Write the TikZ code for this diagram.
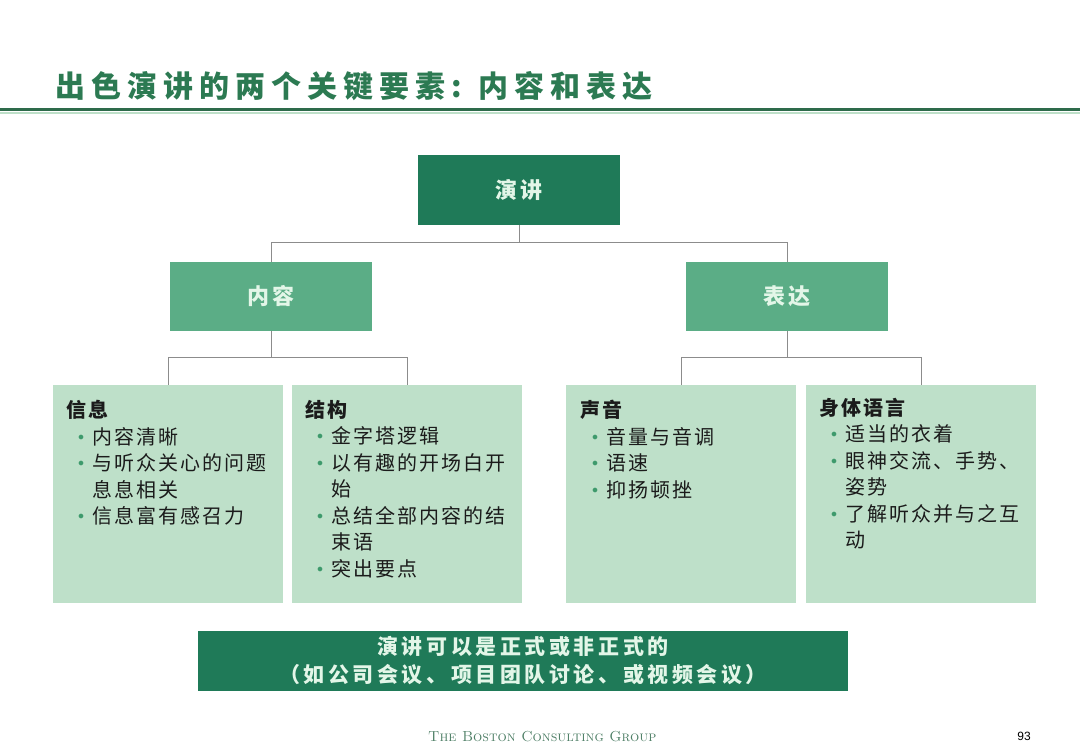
\documentclass[tikz,border=0pt]{standalone}
\usepackage{fontspec}
\newfontfamily\cjk{Noto Sans CJK SC}
\newfontfamily\pagefont{Liberation Sans}
\usetikzlibrary{positioning,calc}
\definecolor{bcgdark}{HTML}{1F7A58}
\definecolor{bcgmid}{HTML}{5BAD86}
\definecolor{bcglight}{HTML}{BEE0C9}
\definecolor{bcgtitle}{HTML}{2C7A52}
\definecolor{bcgrule}{HTML}{2E6B4B}
\definecolor{bcgfoot}{HTML}{4E7F66}
\definecolor{mint}{HTML}{E3F6E8}
\definecolor{wirec}{HTML}{8C8C8C}
\definecolor{ink}{HTML}{1B1B1B}
\definecolor{dotgreen}{HTML}{3E9A6C}
\newcommand{\itm}{\hspace*{12pt}\makebox[14pt][l]{\raisebox{4pt}{\textcolor{dotgreen}{\fontsize{13}{13}\selectfont$\bullet$}}}}
\newcommand{\hang}{\hspace*{26pt}}
\tikzset{
  topbox/.style  = {rectangle, fill=bcgdark, text=mint, minimum width=202pt, minimum height=70pt,
                    font=\cjk\bfseries\fontsize{22}{22}\selectfont\addfontfeatures{LetterSpace=12}},
  midbox/.style  = {rectangle, fill=bcgmid, text=mint, minimum width=202pt, minimum height=69pt,
                    font=\cjk\bfseries\fontsize{22}{22}\selectfont\addfontfeatures{LetterSpace=12}},
  leafbox/.style = {rectangle, fill=bcglight, minimum width=230pt, minimum height=218pt,
                    anchor=north west, inner sep=0pt},
  leaftext/.style= {anchor=north west, inner sep=0pt, align=left, text=ink,
                    font=\cjk\fontsize{20}{26.5}\selectfont\addfontfeatures{LetterSpace=10}},
  wire/.style    = {draw=wirec, line width=1pt},
}

\begin{document}
\begin{tikzpicture}[x=1pt, y=-1pt]
  \useasboundingbox (0,0) rectangle (1080,748);
  \fill[white] (0,0) rectangle (1080,748);

  % title and rule
  \node[anchor=base west, inner sep=0pt, text=bcgtitle,
        font=\cjk\bfseries\fontsize{30}{30}\selectfont\addfontfeatures{LetterSpace=20}] (title)
    at (55,97) {出色演讲的两个关键要素: 内容和表达};
  \draw[bcgrule, line width=3pt] (0,109.5) -- (1080,109.5);
  \draw[bcglight, line width=1.5pt] (0,113) -- (1080,113);

  % tree
  \node[topbox] (talk) at (519,190) {演讲};
  \node[midbox] (content) at (271,296.5) {内容};
  \node[midbox] (delivery) at (787,296.5) {表达};

  \node[leafbox] (info)   at (53,385)  {};
  \node[leafbox] (struct) at (292,385) {};
  \node[leafbox] (voice)  at (566,385) {};
  \node[leafbox] (body)   at (806,385) {};

  \coordinate (j0) at (519,242);
  \coordinate (j1) at (271,357);
  \coordinate (j2) at (787,357);
  \draw[wire] (talk.south) -- (j0) -| (content.north);
  \draw[wire] (j0) -| (delivery.north);
  \draw[wire] (content.south) -- (j1) -| (info.north);
  \draw[wire] (j1) -| (struct.north);
  \draw[wire] (delivery.south) -- (j2) -| (voice.north);
  \draw[wire] (j2) -| (body.north);

  \node[leaftext] (infotxt) at ([shift={(13,15)}]info.north west)
    {\textbf{信息}\\ \itm 内容清晰\\ \itm 与听众关心的问题\\ \hang 息息相关\\ \itm 信息富有感召力};
  \node[leaftext] (structtxt) at ([shift={(13,15)}]struct.north west)
    {\textbf{结构}\\ \itm 金字塔逻辑\\ \itm 以有趣的开场白开\\ \hang 始\\ \itm 总结全部内容的结\\ \hang 束语\\ \itm 突出要点};
  \node[leaftext] (voicetxt) at ([shift={(14,15)}]voice.north west)
    {\textbf{声音}\\ \itm 音量与音调\\ \itm 语速\\ \itm 抑扬顿挫};
  \node[leaftext] (bodytxt) at ([shift={(13,13)}]body.north west)
    {\textbf{身体语言}\\ \itm 适当的衣着\\ \itm 眼神交流、手势、\\ \hang 姿势\\ \itm 了解听众并与之互\\ \hang 动};

  % banner
  \node[rectangle, fill=bcgdark, text=mint, minimum width=650pt, minimum height=60pt, align=center,
        font=\cjk\bfseries\fontsize{21}{28}\selectfont\addfontfeatures{LetterSpace=17}] (banner)
    at (523,661) {演讲可以是正式或非正式的\\（如公司会议、项目团队讨论、或视频会议）};

  % footer
  \node[anchor=base west, inner sep=0pt, text=bcgfoot, font=\fontsize{14.5}{14.5}\selectfont] (firm)
    at (428,741) {\textsc{The Boston Consulting Group}};
  \node[anchor=base east, inner sep=0pt, font=\pagefont\fontsize{12}{12}\selectfont] (page)
    at (1031,740) {93};
\end{tikzpicture}
\end{document}
